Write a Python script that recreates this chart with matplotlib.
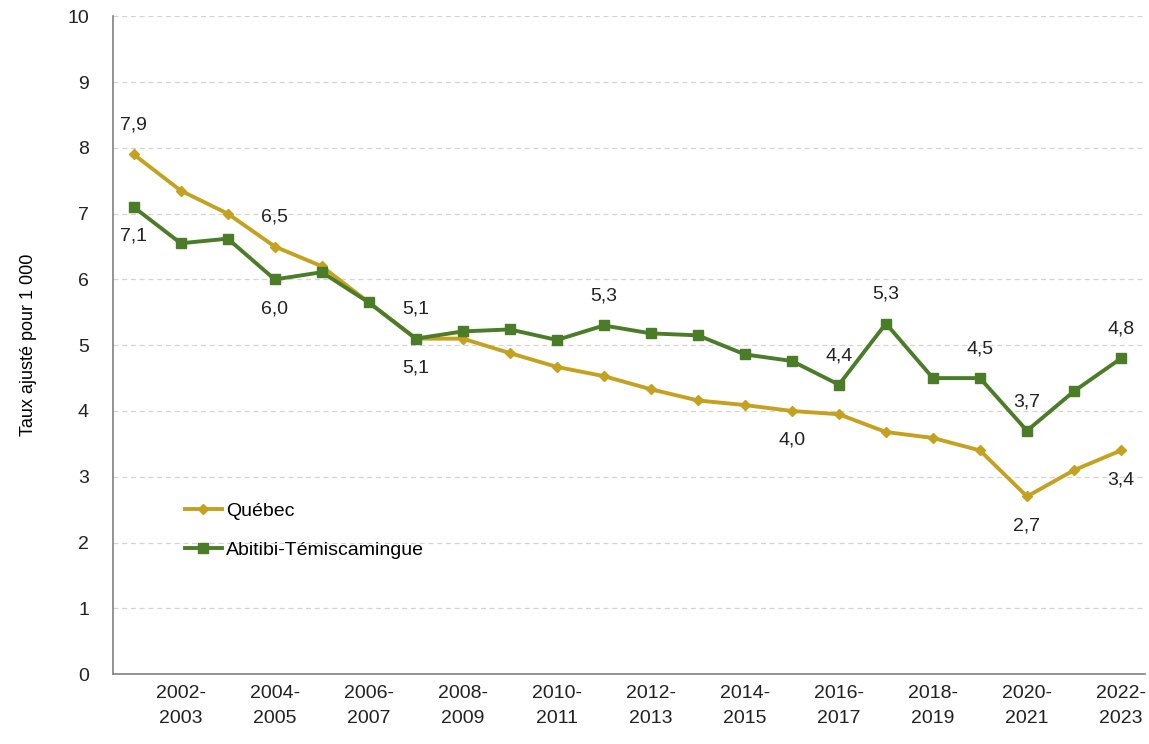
import matplotlib.pyplot as plt
import numpy as np

# ---------------- data ----------------
PERIODS = [f"{y}-{y + 1}" for y in range(2001, 2023)]

QUEBEC = [7.9, 7.35, 7.0, 6.5, 6.2, 5.65, 5.1, 5.1, 4.88, 4.67, 4.53,
          4.33, 4.16, 4.09, 4.0, 3.95, 3.68, 3.59, 3.4, 2.7, 3.1, 3.4]
ABITIBI = [7.1, 6.55, 6.62, 6.0, 6.11, 5.65, 5.1, 5.21, 5.24, 5.08, 5.3,
           5.18, 5.15, 4.86, 4.76, 4.4, 5.33, 4.5, 4.5, 3.7, 4.3, 4.8]

# labelled points: (index, direction) where +1 = above, -1 = below
QUEBEC_LABELS = [(0, 1), (3, 1), (6, 1), (14, -1), (19, -1), (21, -1)]
ABITIBI_LABELS = [(0, -1), (3, -1), (6, -1), (10, 1), (15, 1), (16, 1),
                  (18, 1), (19, 1), (21, 1)]

COL_QC = "#C4A21F"
COL_AT = "#4B7C27"

plt.rcParams["font.family"] = ["Liberation Sans", "DejaVu Sans"]
plt.rcParams["font.size"] = 14


def fmt(v):
    return f"{v:.1f}".replace(".", ",")


fig = plt.figure(figsize=(11.49, 7.44), dpi=100)
ax = fig.add_axes([0.098, 0.094, 0.8985, 0.884])

x = np.arange(len(PERIODS))
ax.plot(x, QUEBEC, color=COL_QC, linewidth=2.8, marker="D", markersize=5.5,
        label="Québec", zorder=3)
ax.plot(x, ABITIBI, color=COL_AT, linewidth=2.8, marker="s", markersize=7.5,
        label="Abitibi-Témiscamingue", zorder=4)

for series, labels in [(QUEBEC, QUEBEC_LABELS), (ABITIBI, ABITIBI_LABELS)]:
    for i, d in labels:
        ax.annotate(fmt(series[i]), (x[i], series[i]), xytext=(0, 21 * d),
                    textcoords="offset points", ha="center", va="center",
                    fontsize=14, color="#222222")

ax.set_xlim(-0.45, len(PERIODS) - 0.49)
ax.set_ylim(0, 10)
ax.set_yticks(range(0, 11))

ticks = x[1::2]
ax.set_xticks(ticks)
ax.set_xticklabels([p.replace("-", "-\n") for p in PERIODS[1::2]],
                   fontsize=14, linespacing=1.6)
ax.tick_params(axis="both", length=0, colors="#222222")
ax.tick_params(axis="y", pad=17)
ax.tick_params(axis="x", pad=8)

ax.grid(axis="y", linestyle=(0, (4, 3)), color="#D4D4D4", linewidth=0.9)
ax.set_axisbelow(True)
for s in ["top", "right"]:
    ax.spines[s].set_visible(False)
for s in ["left", "bottom"]:
    ax.spines[s].set_color("#808080")
    ax.spines[s].set_linewidth(1.2)

ax.set_ylabel("Taux ajusté pour 1 000", fontsize=13, labelpad=22)

ax.legend(loc="lower left", bbox_to_anchor=(0.053, 0.148), frameon=False,
          handlelength=1.9, handletextpad=0.2, labelspacing=1.1, fontsize=14)

fig.savefig("out.png", dpi=100)
